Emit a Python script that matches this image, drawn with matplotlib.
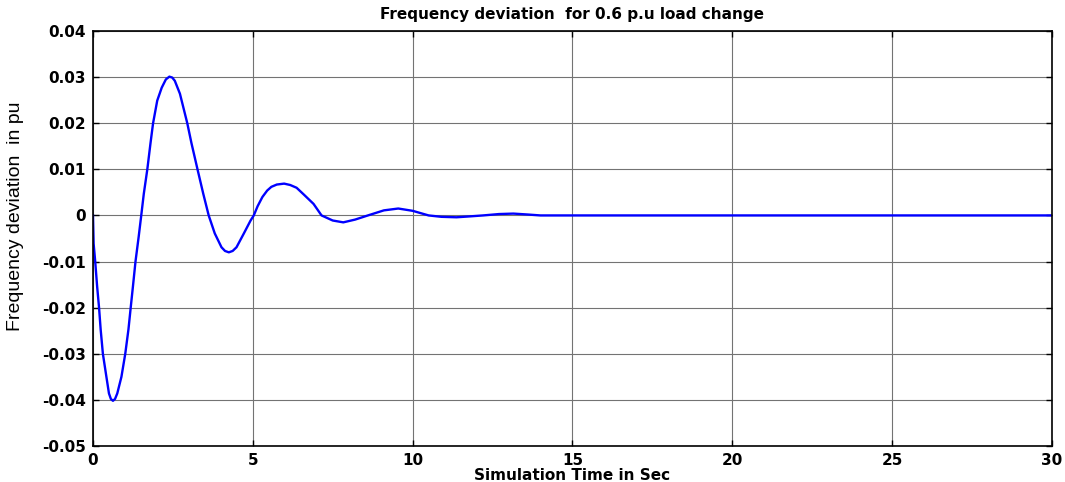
import matplotlib
matplotlib.use("Agg")
import matplotlib.pyplot as plt

# Data
time_s = [0.0, 0.02, 0.07, 0.13, 0.19, 0.24, 0.31, 0.42, 0.50, 0.56, 0.625, 0.69, 0.76,
          0.89, 1.01, 1.11, 1.18, 1.25, 1.33, 1.43, 1.51, 1.59, 1.70, 1.80, 1.88, 2.01,
          2.15, 2.28, 2.39, 2.48, 2.56, 2.72, 2.95, 3.08, 3.27, 3.45, 3.62, 3.81,
          4.02, 4.13, 4.25, 4.37, 4.49, 4.72, 4.93, 5.03, 5.15, 5.3, 5.45, 5.58, 5.75,
          5.98, 6.17, 6.37, 6.6, 6.9, 7.15, 7.5, 7.83, 8.2, 8.6, 9.1, 9.55, 10.0, 10.5,
          10.9, 11.37, 11.8, 12.2, 12.7, 13.15, 13.6, 14.0, 20.0, 30.0]
freq_dev = [0.0, -0.0061, -0.010, -0.0154, -0.020, -0.0247, -0.030, -0.035, -0.0386,
            -0.0398, -0.0402, -0.0398, -0.0386, -0.035, -0.030, -0.0247, -0.020,
            -0.0154, -0.010, -0.0046, 0.0, 0.0047, 0.010, 0.0157, 0.020, 0.0249,
            0.0277, 0.0295, 0.0301, 0.0299, 0.0292, 0.0264, 0.020, 0.0157, 0.010,
            0.0047, 0.0, -0.0039, -0.0069, -0.0077, -0.0080,
            -0.0077, -0.0069, -0.0039, -0.0011, 0.0, 0.0020, 0.0040, 0.0054, 0.0062,
            0.0067, 0.0069, 0.0066, 0.0060, 0.0045, 0.0025, 0.0, -0.0011, -0.0015,
            -0.0009, 0.0, 0.0011, 0.0015, 0.0010, 0.0, -0.0003, -0.0004, -0.0002, 0.0,
            0.0003, 0.0004, 0.0002, 0.0, 0.0, 0.0]

x_ticks = [0, 5, 10, 15, 20, 25, 30]
y_ticks = [0.04, 0.03, 0.02, 0.01, 0.0, -0.01, -0.02, -0.03, -0.04, -0.05]
y_tick_labels = ["0.04", "0.03", "0.02", "0.01", "0", "-0.01", "-0.02", "-0.03", "-0.04", "-0.05"]

title_text = "Frequency deviation  for 0.6 p.u load change"
x_label = "Simulation Time in Sec"
y_label = "Frequency deviation  in pu"

plt.rcParams['font.family'] = ['DejaVu Sans']

fig = plt.figure(figsize=(10.65, 4.82), dpi=100)
ax = fig.add_axes([0.0873, 0.0747, 0.9005, 0.861])

ax.plot(time_s, freq_dev, color=(0, 0, 1), lw=1.7, solid_joinstyle='round')

ax.set_xlim(0, 30)
ax.set_ylim(-0.05, 0.04)
ax.set_xticks(x_ticks)
ax.set_xticklabels([str(v) for v in x_ticks])
ax.set_yticks(y_ticks)
ax.set_yticklabels(y_tick_labels)

ax.grid(True, color='0.45', lw=0.8, ls='-')
ax.set_axisbelow(True)

ax.tick_params(direction='in', length=4, width=1, top=True, right=True,
               labelsize=11, pad=5)
for lab in ax.get_xticklabels() + ax.get_yticklabels():
    lab.set_fontweight('bold')
for sp in ax.spines.values():
    sp.set_linewidth(1.2)
    sp.set_color('black')

ax.set_title(title_text, fontsize=11, fontweight='bold', pad=8.5)
ax.set_xlabel(x_label, fontsize=11, fontweight='bold', labelpad=0)
fig.text(15.5 / 1065, 1 - 216 / 482, y_label, rotation=90, ha='center', va='center',
         fontsize=14, family=['Liberation Sans', 'DejaVu Sans'])

fig.savefig("out.png", dpi=100)
